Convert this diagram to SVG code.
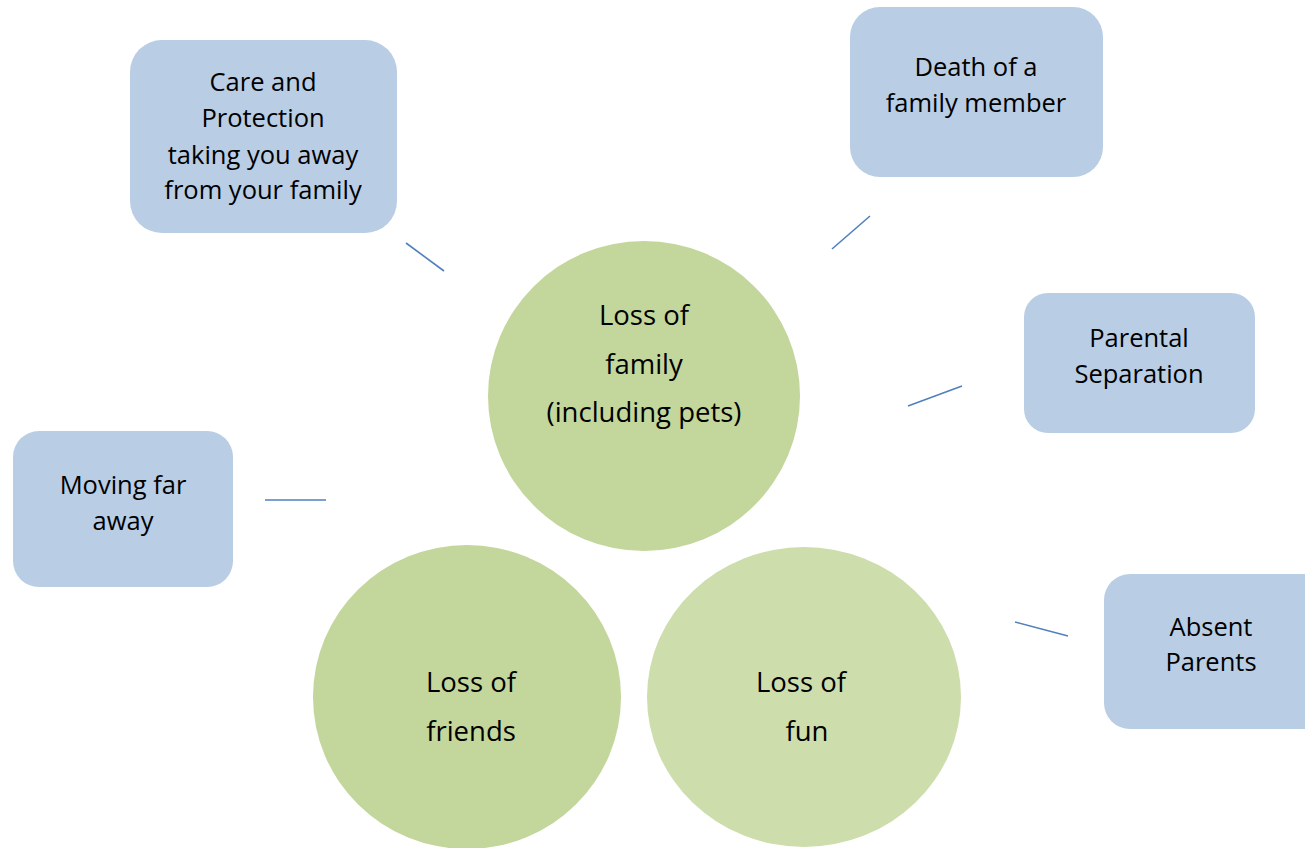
<svg xmlns="http://www.w3.org/2000/svg" width="1305" height="848" viewBox="0 0 1305 848">
<style>
.box{fill:#b9cde5}
.t{font-family:"Open Sans","Noto Sans",sans-serif;font-size:25.5px;fill:#000;text-anchor:middle}
.tc{font-size:27.5px}
.c1{fill:#c3d69b}
.c2{fill:#cdddac}
.ln{stroke:#4f81bd;stroke-width:1.6;fill:none}
</style>
<rect width="1305" height="848" fill="#fff"/>
<g id="connectors">
<line class="ln" x1="406" y1="243" x2="444" y2="271"/>
<line class="ln" x1="832" y1="249" x2="870" y2="216"/>
<line class="ln" x1="908" y1="406" x2="962" y2="386"/>
<line class="ln" x1="265" y1="500" x2="326" y2="500"/>
<line class="ln" x1="1015" y1="622" x2="1068" y2="636"/>
</g>
<g id="care">
<rect class="box" x="130" y="40" width="267" height="193" rx="32"/>
<text class="t" x="263" y="91">Care and</text>
<text class="t" x="263" y="127">Protection</text>
<text class="t" x="263" y="164">taking you away</text>
<text class="t" x="263" y="199">from your family</text>
</g>
<g id="death">
<rect class="box" x="850" y="7" width="253" height="170" rx="30"/>
<text class="t" x="976" y="76">Death of a</text>
<text class="t" x="976" y="112">family member</text>
</g>
<g id="parental">
<rect class="box" x="1024" y="293" width="231" height="140" rx="24"/>
<text class="t" x="1139" y="347">Parental</text>
<text class="t" x="1139" y="383">Separation</text>
</g>
<g id="moving">
<rect class="box" x="13" y="431" width="220" height="156" rx="26"/>
<text class="t" x="123" y="494">Moving far</text>
<text class="t" x="123" y="530">away</text>
</g>
<g id="absent">
<rect class="box" x="1104" y="574" width="230" height="155" rx="26"/>
<text class="t" x="1211" y="636">Absent</text>
<text class="t" x="1211" y="671">Parents</text>
</g>
<g id="family">
<ellipse class="c1" cx="644" cy="396" rx="156" ry="155"/>
<text class="t tc" x="644" y="325">Loss of</text>
<text class="t tc" x="644" y="374">family</text>
<text class="t tc" x="644" y="422">(including pets)</text>
</g>
<g id="friends">
<ellipse class="c1" cx="467" cy="697" rx="154" ry="152"/>
<text class="t tc" x="471" y="692">Loss of</text>
<text class="t tc" x="471" y="741">friends</text>
</g>
<g id="fun">
<ellipse class="c2" cx="804" cy="697" rx="157" ry="150"/>
<text class="t tc" x="801" y="692">Loss of</text>
<text class="t tc" x="807" y="741">fun</text>
</g>
</svg>
